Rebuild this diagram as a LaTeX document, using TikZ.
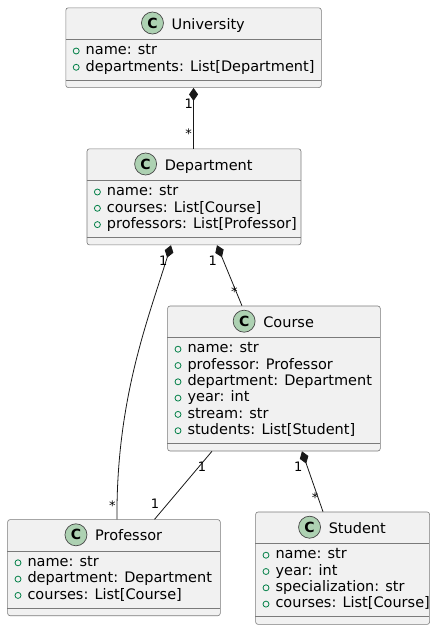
\documentclass[tikz,border=0pt]{standalone}
\usepackage{fontspec}
\setmainfont{DejaVu Sans}
\usetikzlibrary{positioning,arrows.meta}
\definecolor{boxfill}{HTML}{F1F1F1}
\definecolor{boxline}{HTML}{7A7A7A}
\definecolor{linkline}{HTML}{181818}
\definecolor{iconfill}{HTML}{ADD1B2}
\definecolor{fieldgreen}{HTML}{038048}

\tikzset{
  classbox/.style={draw=boxline, fill=boxfill, line width=0.6pt, rounded corners=2.5pt, inner sep=0},
  classline/.style={draw=boxline, line width=0.6pt},
  classtitle/.style={inner sep=0, anchor=base, font=\fontsize{14.5}{16}\selectfont},
  classicon/.style={circle, draw=linkline!80, fill=iconfill, minimum size=22pt, inner sep=0, line width=0.7pt, font=\fontsize{14}{14}\selectfont\bfseries},
  fieldicon/.style={circle, draw=fieldgreen, minimum size=6pt, inner sep=0, line width=0.8pt},
  field/.style={inner sep=0, anchor=west, text height=10.5pt, text depth=3pt, font=\fontsize{14.5}{16}\selectfont},
  mult/.style={inner sep=0, anchor=base, font=\fontsize{13}{13}\selectfont},
  assoc/.style={draw=linkline, line width=0.8pt},
  comp/.style={assoc, {Diamond[length=13pt,width=9pt]}-},
}

% #1 name, #2 left, #3 top, #4 right, #5 number of fields, #6 title, #7 fields
\newcommand{\umlclass}[7]{%
  \pgfmathsetmacro\clssepa{#3+32}
  \pgfmathsetmacro\clssepb{#3+32+11.5+(#5-1)*16.3+12.5}
  \pgfmathsetmacro\clsbot{\clssepb+7.5}
  \node[classbox, anchor=north west, minimum width={(#4-#2)*1pt}, minimum height={(\clsbot-#3)*1pt}] (#1) at (#2,#3) {};
  \draw[classline] (#2,\clssepa) -- (#4,\clssepa) (#2,\clssepb) -- (#4,\clssepb);
  \node[classtitle] (#1-t) at ({(#2+#4)/2+15},{#3+21.5}) {#6};
  \node[classicon] (#1-c) at ([xshift=-19pt,yshift=6pt]#1-t.base west) {C};
  \foreach \f [count=\i] in {#7} {
    \node[fieldicon] (#1-o\i) at ({#2+10.7},{\clssepa+11.5+(\i-1)*16.3}) {};
    \node[field] (#1-f\i) at ({#2+20},{\clssepa+11.5+(\i-1)*16.3}) {\f};
  }
}

\begin{document}
\begin{tikzpicture}[x=1pt,y=-1pt]
  \useasboundingbox (0,0) rectangle (435,630);
  \umlclass{univ}{65.5}{7.5}{321}{2}{University}{name: str, departments: List[Department]}
  \umlclass{dept}{86.7}{148.5}{300.7}{3}{Department}{name: str, courses: List[Course], professors: List[Professor]}
  \umlclass{course}{167.3}{305.7}{380}{6}{Course}{name: str, professor: Professor, department: Department, year: int, stream: str, students: List[Student]}
  \umlclass{prof}{7.3}{519.3}{220}{3}{Professor}{name: str, department: Department, courses: List[Course]}
  \umlclass{student}{255.3}{511.7}{429.3}{4}{Student}{name: str, year: int, specialization: str, courses: List[Course]}

  % compositions and association
  \draw[comp] (univ.south) -- (univ.south |- dept.north);
  \draw[comp] ([xshift=-23pt]dept.south) .. controls +(-23.7,76) and +(-0.7,-119.3) .. ([xshift=3pt]prof.north);
  \draw[comp] ([xshift=23pt]dept.south) -- ([xshift=-32pt]course.north);
  \draw[assoc] ([xshift=-62pt]course.south) -- ([xshift=40.6pt]prof.north);
  \draw[comp] ([xshift=28pt]course.south) -- ([xshift=-19.6pt]student.north);

  % multiplicities
  \node[mult] (ud-1) at (188.7,108.7) {1};
  \node[mult] (ud-n) at (188.7,138.7) {*};
  \node[mult] (dp-1) at (163.3,265.4) {1};
  \node[mult] (dp-n) at (112.3,510) {*};
  \node[mult] (dc-1) at (212.7,265.4) {1};
  \node[mult] (dc-n) at (234.3,296.7) {*};
  \node[mult] (cp-1) at (202,471.4) {1};
  \node[mult] (cp-2) at (155,508.7) {1};
  \node[mult] (cs-1) at (298.3,471.4) {1};
  \node[mult] (cs-n) at (315,502.7) {*};
\end{tikzpicture}
\end{document}
